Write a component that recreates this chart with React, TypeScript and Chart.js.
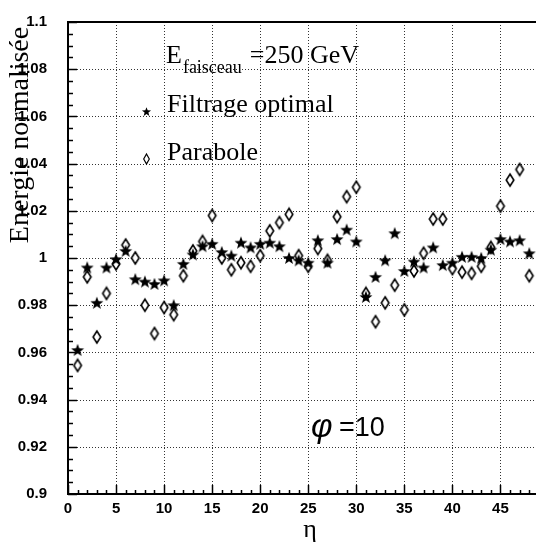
import React, { useEffect, useRef } from "react";
import { Chart, registerables } from "chart.js";

Chart.register(...registerables);

// ---- data ----
const eta = [
  1, 2, 3, 4, 5, 6, 7, 8, 9, 10, 11, 12, 13, 14, 15, 16, 17, 18, 19, 20, 21, 22, 23, 24,
  25, 26, 27, 28, 29, 30, 31, 32, 33, 34, 35, 36, 37, 38, 39, 40, 41, 42, 43, 44, 45, 46, 47, 48,
];
const filtrageOptimal = [
  0.961, 0.996, 0.981, 0.996, 0.9995, 1.003, 0.991, 0.99, 0.989, 0.9905, 0.98, 0.9975,
  1.0015, 1.005, 1.006, 1.0025, 1.001, 1.0065, 1.0045, 1.006, 1.0065, 1.005, 1.0, 0.999,
  0.998, 1.0075, 0.998, 1.008, 1.012, 1.007, 0.9835, 0.992, 0.999, 1.0105, 0.9945, 0.9985,
  0.996, 1.0045, 0.997, 0.998, 1.0005, 1.0005, 1.0, 1.0035, 1.008, 1.007, 1.0075, 1.002,
];
const parabole = [
  0.9545, 0.992, 0.9665, 0.985, 0.9975, 1.0055, 1.0, 0.98, 0.968, 0.979, 0.976, 0.9925,
  1.003, 1.007, 1.018, 1.0, 0.995, 0.998, 0.9965, 1.001, 1.0115, 1.015, 1.0185, 1.001,
  0.9965, 1.004, 0.999, 1.0175, 1.026, 1.03, 0.985, 0.973, 0.981, 0.9885, 0.978, 0.9945,
  1.002, 1.0165, 1.0165, 0.9955, 0.994, 0.9935, 0.9965, 1.0045, 1.022, 1.033, 1.0375, 0.9925,
];
const xMajorTicks = [0, 5, 10, 15, 20, 25, 30, 35, 40, 45];
const yMajorTicks = [0.9, 0.92, 0.94, 0.96, 0.98, 1.0, 1.02, 1.04, 1.06, 1.08, 1.1];
const xMin = 0;
const xMax = 48.7;
const yMin = 0.9;
const yMax = 1.1;
const seriesLabels = ["Filtrage optimal", "Parabole"];
const beamLabelMain = "E";
const beamLabelSub = "faisceau";
const beamLabelValue = "=250 GeV";
const phiSymbol = "φ";
const phiValue = "=10";
const xTitle = "η";
const yTitle = "Energie normalisée";

// ---- marker images ----
function starPath(ctx: CanvasRenderingContext2D, cx: number, cy: number, ro: number) {
  const ri = ro * 0.42;
  ctx.beginPath();
  for (let i = 0; i < 10; i++) {
    const r = i % 2 === 0 ? ro : ri;
    const a = -Math.PI / 2 + (i * Math.PI) / 5;
    const px = cx + r * Math.cos(a);
    const py = cy + r * Math.sin(a);
    if (i === 0) ctx.moveTo(px, py);
    else ctx.lineTo(px, py);
  }
  ctx.closePath();
}
function diamondPath(ctx: CanvasRenderingContext2D, cx: number, cy: number, hw: number, hh: number) {
  ctx.beginPath();
  ctx.moveTo(cx, cy - hh);
  ctx.lineTo(cx + hw, cy);
  ctx.lineTo(cx, cy + hh);
  ctx.lineTo(cx - hw, cy);
  ctx.closePath();
}
function makeStar(): HTMLCanvasElement {
  const c = document.createElement("canvas");
  c.width = 16;
  c.height = 16;
  const g = c.getContext("2d")!;
  starPath(g, 8, 8.5, 6.8);
  g.fillStyle = "#000";
  g.fill();
  return c;
}
function makeDiamond(): HTMLCanvasElement {
  const c = document.createElement("canvas");
  c.width = 12;
  c.height = 16;
  const g = c.getContext("2d")!;
  diamondPath(g, 6, 8, 3.8, 6);
  g.fillStyle = "#fff";
  g.fill();
  g.strokeStyle = "#000";
  g.lineWidth = 1.6;
  g.stroke();
  return c;
}

const decor = {
  id: "decor",
  beforeDatasetsDraw(chart: any) {
    const { ctx, chartArea: a, scales } = chart;
    const x = scales.x;
    const y = scales.y;
    ctx.save();
    ctx.strokeStyle = "#333";
    ctx.lineWidth = 1;
    ctx.setLineDash([1, 2]);
    xMajorTicks.forEach((v) => {
      if (v <= xMin) return;
      const px = Math.round(x.getPixelForValue(v)) + 0.5;
      ctx.beginPath();
      ctx.moveTo(px, a.top);
      ctx.lineTo(px, a.bottom);
      ctx.stroke();
    });
    yMajorTicks.forEach((v) => {
      if (v <= yMin + 1e-9 || v >= yMax - 1e-9) return;
      const py = Math.round(y.getPixelForValue(v)) + 0.5;
      ctx.beginPath();
      ctx.moveTo(a.left, py);
      ctx.lineTo(a.right, py);
      ctx.stroke();
    });
    ctx.restore();
  },
  afterDatasetsDraw(chart: any) {
    const { ctx, chartArea: a, scales } = chart;
    const x = scales.x;
    const y = scales.y;
    ctx.save();
    // frame
    ctx.strokeStyle = "#000";
    ctx.lineWidth = 2;
    ctx.beginPath();
    ctx.moveTo(a.right, a.top);
    ctx.lineTo(a.left, a.top);
    ctx.lineTo(a.left, a.bottom);
    ctx.lineTo(a.right, a.bottom);
    ctx.stroke();
    // ticks
    ctx.lineWidth = 1.5;
    for (let i = 0; i <= 40; i++) {
      const v = yMin + i * 0.005;
      const py = Math.round(y.getPixelForValue(v)) + 0.5;
      const len = i % 4 === 0 ? 9 : 5;
      ctx.beginPath();
      ctx.moveTo(a.left, py);
      ctx.lineTo(a.left + len, py);
      ctx.stroke();
    }
    for (let i = 0; i <= Math.floor(xMax); i++) {
      const px = Math.round(x.getPixelForValue(i)) + 0.5;
      const len = i % 5 === 0 ? 9 : 4;
      ctx.beginPath();
      ctx.moveTo(px, a.bottom);
      ctx.lineTo(px, a.bottom - len);
      ctx.stroke();
    }

    ctx.fillStyle = "#000";
    ctx.textAlign = "left";
    ctx.textBaseline = "alphabetic";
    // beam energy label
    ctx.font = '26px "Liberation Serif"';
    ctx.fillText(beamLabelMain, 166, 63);
    let cx = 166 + ctx.measureText(beamLabelMain).width + 1;
    ctx.font = '18px "Liberation Serif"';
    ctx.fillText(beamLabelSub, cx, 73);
    cx += ctx.measureText(beamLabelSub).width + 8;
    ctx.font = '26px "Liberation Serif"';
    ctx.fillText(beamLabelValue, cx, 63);

    // legend
    ctx.fillText(seriesLabels[0], 167, 112);
    ctx.fillText(seriesLabels[1], 167, 160);
    starPath(ctx, 146.5, 112, 4.8);
    ctx.fill();
    diamondPath(ctx, 146.5, 159, 2.8, 5);
    ctx.fillStyle = "#fff";
    ctx.fill();
    ctx.strokeStyle = "#000";
    ctx.lineWidth = 1.2;
    ctx.stroke();
    ctx.fillStyle = "#000";

    // phi label
    ctx.font = 'italic 33px "Liberation Sans"';
    ctx.fillText(phiSymbol, 311, 437);
    ctx.font = '27px "Liberation Sans"';
    ctx.fillText(phiValue, 339, 436);

    // axis titles
    ctx.font = '26px "Liberation Serif"';
    ctx.textAlign = "center";
    ctx.fillText(xTitle, 310, 537);
    ctx.font = '28px "Liberation Serif"';
    ctx.translate(28, 135);
    ctx.rotate(-Math.PI / 2);
    ctx.fillText(yTitle, 0, 0);
    ctx.restore();
  },
};

export default function App() {
  const ref = useRef<HTMLCanvasElement | null>(null);
  useEffect(() => {
    const canvas = ref.current;
    if (!canvas) return;
    const star = makeStar();
    const diamond = makeDiamond();
    const chart = new Chart(canvas, {
      type: "scatter",
      data: {
        datasets: [
          {
            label: seriesLabels[0],
            data: eta.map((e, i) => ({ x: e, y: filtrageOptimal[i] })),
            pointStyle: star as any,
            pointRadius: 7,
            showLine: false,
          },
          {
            label: seriesLabels[1],
            data: eta.map((e, i) => ({ x: e, y: parabole[i] })),
            pointStyle: diamond as any,
            pointRadius: 7,
            showLine: false,
          },
        ],
      },
      options: {
        animation: false,
        responsive: false,
        devicePixelRatio: 1,
        events: [],
        layout: { padding: { top: 16, right: 0, left: 0, bottom: 0 } },
        plugins: {
          legend: { display: false },
          tooltip: { enabled: false },
          title: { display: false },
        },
        scales: {
          x: {
            type: "linear",
            min: xMin,
            max: xMax,
            grid: { display: false },
            border: { display: false },
            afterBuildTicks: (s: any) => {
              s.ticks = xMajorTicks.map((v) => ({ value: v }));
            },
            afterFit: (s: any) => {
              s.height = 51;
            },
            ticks: {
              color: "#000",
              padding: -2,
              maxRotation: 0,
              autoSkip: false,
              font: { family: "Liberation Sans", weight: "bold", size: 15 },
              callback: (v: any) => String(v),
            },
          },
          y: {
            type: "linear",
            min: yMin,
            max: yMax,
            grid: { display: false },
            border: { display: false },
            afterBuildTicks: (s: any) => {
              s.ticks = yMajorTicks.map((v) => ({ value: v }));
            },
            afterFit: (s: any) => {
              s.width = 68;
            },
            ticks: {
              color: "#000",
              padding: 13,
              autoSkip: false,
              font: { family: "Liberation Sans", weight: "bold", size: 15 },
              callback: (v: any) => String(Number(Number(v).toFixed(2))),
            },
          },
        },
      },
      plugins: [decor],
    });
    return () => chart.destroy();
  }, []);
  return (
    <div style={{ position: "fixed", left: 0, top: 0, width: 544, height: 545, background: "#fff" }}>
      <canvas ref={ref} width={544} height={545} style={{ display: "block" }} />
    </div>
  );
}
